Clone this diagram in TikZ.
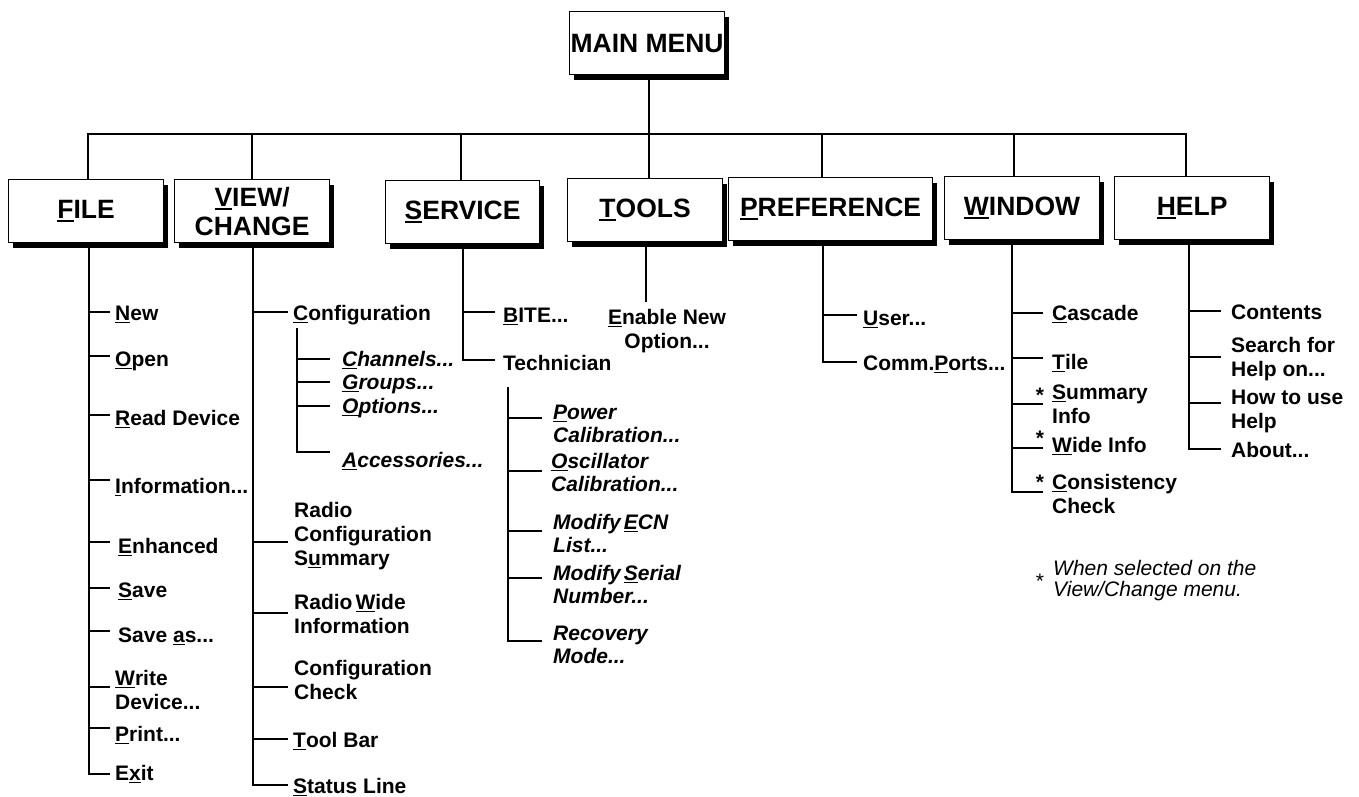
\documentclass[tikz,border=0pt]{standalone}
\usepackage{fontspec}
\setmainfont{Liberation Sans}
\usetikzlibrary{shadows}
\newcommand\ulc[1]{\setbox0=\hbox{#1}\rlap{\rule[-0.15em]{\wd0}{0.08em}}\box0}
\newcommand\fl{\rule{0pt}{17pt}}
\newcommand\boxfont{\fontsize{26.5}{29}\selectfont\bfseries}
\newcommand\itemfont{\fontsize{21}{24}\selectfont\bfseries}
\newcommand\subfont{\fontsize{21}{23.5}\selectfont\bfseries\itshape}
\newcommand\notefont{\fontsize{21}{21}\selectfont\itshape}
\begin{document}
\begin{tikzpicture}[x=1pt,y=-1pt,
  menubox/.style={draw, line width=1.2pt, fill=white, minimum width=155pt,
    minimum height=63pt, inner sep=0pt, anchor=north west, font=\boxfont,
    align=center, drop shadow={shadow xshift=4pt, shadow yshift=-5pt, fill=black, opacity=1}},
  item/.style={anchor=north west, yshift=17pt, inner sep=0pt, align=left, font=\itemfont},
  subitem/.style={item, font=\subfont},
  conn/.style={line width=2pt},
  star/.style={anchor=base, inner sep=0pt, font=\itemfont},
]
\useasboundingbox (0,0) rectangle (1359,797);

% boxes
\node[menubox] (main) at (569,11) {MAIN MENU};
\node[menubox] (file) at (8,179) {\ulc{F}ILE};
\node[menubox] (view) at (174,179) {\ulc{V}IEW/\\CHANGE};
\node[menubox, minimum width=154pt] (serv) at (385,180) {\ulc{S}ERVICE};
\node[menubox] (tools) at (567,178) {\ulc{T}OOLS};
\node[menubox, minimum width=204pt] (pref) at (728,177) {\ulc{P}REFERENCE};
\node[menubox] (win) at (944,176) {\ulc{W}INDOW};
\node[menubox] (help) at (1114,176) {\ulc{H}ELP};

% column coordinates
\coordinate (bF) at (88,134);
\coordinate (bV) at (252,134);
\coordinate (bS) at (461,134);
\coordinate (bT) at (649,134);
\coordinate (bP) at (822,134);
\coordinate (bW) at (1014,134);
\coordinate (bH) at (1186,134);

% bus and stems
\draw[conn] (main.south -| bT) -- (tools.north -| bT);
\draw[conn] (file.north -| bF) -- (bF) -- (bH) -- (help.north -| bH);
\draw[conn] (bV) -- (view.north -| bV);
\draw[conn] (bS) -- (serv.north -| bS);
\draw[conn] (bP) -- (pref.north -| bP);
\draw[conn] (bW) -- (win.north -| bW);

% ---------- FILE ----------
\coordinate (cF) at (89,0);
\draw[conn] (file.south -| cF) -- (89,774) -- (110,774);
\foreach \y in {312,356,415,480,542,588,631,687,728} \draw[conn] (89,\y) -- (110,\y);
\node[item] (fnew) at (115,320) {\fl\ulc{N}ew};
\node[item] (fopen) at (115,366) {\fl\ulc{O}pen};
\node[item] (fread) at (115,425) {\fl\ulc{R}ead Device};
\node[item] (finfo) at (115,493) {\fl\ulc{I}nformation...};
\node[item] (fenh) at (118,553) {\fl\ulc{E}nhanced};
\node[item] (fsave) at (118,597) {\fl\ulc{S}ave};
\node[item] (fsaveas) at (118,642) {\fl Save \ulc{a}s...};
\node[item] (fwrite) at (115,685) {\fl\ulc{W}rite\\Device...};
\node[item] (fprint) at (115,741) {\fl\ulc{P}rint...};
\node[item] (fexit) at (115,780) {\fl E\ulc{x}it};

% ---------- VIEW/CHANGE ----------
\coordinate (cV) at (253,0);
\draw[conn] (view.south -| cV) -- (253,785) -- (288,785);
\foreach \y in {312,542,613,687,739} \draw[conn] (253,\y) -- (288,\y);
\node[item] (vconf) at (293,320) {\fl\ulc{C}onfiguration};
\draw[conn] (297,328) -- (297,452) -- (330,452);
\foreach \y in {359,382,406} \draw[conn] (297,\y) -- (330,\y);
\node[subitem] (vchan) at (342,366) {\fl\ulc{C}hannels...};
\node[subitem] (vgrp) at (342,389) {\fl\ulc{G}roups...};
\node[subitem] (vopt) at (342,413) {\fl\ulc{O}ptions...};
\node[subitem] (vacc) at (342,467) {\fl\ulc{A}ccessories...};
\node[item] (vrcs) at (294,517) {\fl Radio\\Configuration\\S\ulc{u}mmary};
\node[item] (vrwi) at (294,609) {\fl Radio\hspace{3pt}\ulc{W}ide\\Information};
\node[item] (vcc) at (294,675) {\fl Configuration\\Check};
\node[item] (vtb) at (293,747) {\fl\ulc{T}ool Bar};
\node[item] (vsl) at (293,793) {\fl\ulc{S}tatus Line};

% ---------- SERVICE ----------
\coordinate (cS) at (463,0);
\draw[conn] (serv.south -| cS) -- (463,360) -- (495,360);
\draw[conn] (463,312) -- (495,312);
\node[item] (sbite) at (503,322) {\fl\ulc{B}ITE...};
\node[item] (stech) at (503,370) {\fl Technician};
\draw[conn] (508,387) -- (508,641) -- (542,641);
\foreach \y in {418,471,531,578} \draw[conn] (508,\y) -- (542,\y);
\node[subitem] (spow) at (553,419) {\fl\ulc{P}ower\\Calibration...};
\node[subitem] (sosc) at (551,468) {\fl\ulc{O}scillator\\Calibration...};
\node[subitem] (secn) at (553,529) {\fl Modify\hspace{3pt}\ulc{E}CN\\List...};
\node[subitem] (sser) at (553,580) {\fl Modify\hspace{3pt}\ulc{S}erial\\Number...};
\node[subitem] (srec) at (553,640) {\fl Recovery\\Mode...};

% ---------- TOOLS ----------
\coordinate (cT) at (646,0);
\draw[conn] (tools.south -| cT) -- (646,302);
\node[item, anchor=north, align=center] (tenable) at (667,324) {\fl\ulc{E}nable New\\Option...};

% ---------- PREFERENCE ----------
\coordinate (cP) at (823,0);
\draw[conn] (pref.south -| cP) -- (823,362) -- (857,362);
\draw[conn] (823,315) -- (857,315);
\node[item] (puser) at (863,325) {\fl\ulc{U}ser...};
\node[item] (pcomm) at (863,370) {\fl Comm.\ulc{P}orts...};

% ---------- WINDOW ----------
\coordinate (cW) at (1012,0);
\draw[conn] (win.south -| cW) -- (1012,492) -- (1043,492);
\foreach \y in {313,358,404,448} \draw[conn] (1012,\y) -- (1043,\y);
\node[item] (wcas) at (1052,320) {\fl\ulc{C}ascade};
\node[item] (wtile) at (1052,369) {\fl\ulc{T}ile};
\node[item] (wsum) at (1052,399) {\fl\ulc{S}ummary\\Info};
\node[item] (wwide) at (1052,452) {\fl\ulc{W}ide Info};
\node[item] (wcons) at (1052,489) {\fl\ulc{C}onsistency\\Check};
\node[star] (st1) at (1040,402) {*};
\node[star] (st2) at (1040,445) {*};
\node[star] (st3) at (1040,489) {*};

% ---------- HELP ----------
\coordinate (cH) at (1189,0);
\draw[conn] (help.south -| cH) -- (1189,449) -- (1221,449);
\foreach \y in {311,357,403} \draw[conn] (1189,\y) -- (1221,\y);
\node[item] (hcont) at (1231,319) {\fl Contents};
\node[item] (hsearch) at (1231,352) {\fl Search for\\Help on...};
\node[item] (hhow) at (1231,404) {\fl How to use\\Help};
\node[item] (habout) at (1231,457) {\fl About...};

% ---------- footnote ----------
\node[star, font=\fontsize{21}{21}\selectfont] (st4) at (1040,588) {*};
\node[item, font=\notefont] (note) at (1053,575) {\fl When selected on the\\View/Change menu.};
\end{tikzpicture}
\end{document}
